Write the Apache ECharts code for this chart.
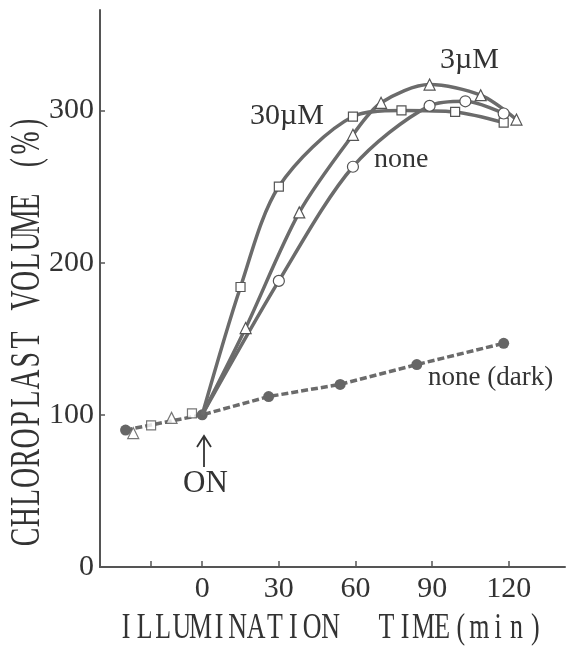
<!DOCTYPE html>
<html>
<head>
<meta charset="utf-8">
<script src="https://cdn.jsdelivr.net/npm/echarts@6/dist/echarts.min.js"></script>
<style>
  html, body { margin: 0; padding: 0; background: #fff; }
  #chart { width: 575px; height: 649px; }
</style>
</head>
<body>
<div id="chart"></div>
<script>
// tick positions / labels
const xTicks = [-20, 0, 30, 60, 90, 120];
const xLabels = [0, 30, 60, 90, 120];
const yLabels = [0, 100, 200, 300];

// [time (min), volume (%)]
const darkNone = [[-30, 90], [0, 100], [26, 112], [54, 120], [84, 133], [118, 147]];
const pre30 = [[-20, 93], [-4, 101]];
const light30 = [[0, 100], [15, 184], [30, 250], [59, 296], [78, 300], [99, 299], [118, 292]];
const pre3 = [[-27, 88], [-12, 98]];
const light3 = [[0, 100], [17, 157], [38, 233], [59, 284], [70, 305], [89, 317], [109, 310], [123, 294]];
const lightNone = [[0, 100], [30, 188], [59, 263], [89, 303], [103, 306], [118, 298]];

const xTitle = 'ILLUMINATION  TIME(min)';
const yTitle = 'CHLOROPLAST VOLUME (%)';

const ink = '#555';
const textInk = '#333';
const lineGray = '#6b6b6b';
const serif = 'Liberation Serif';

// hide marker on the shared start point (drawn by the dark series)
const noStart = arr => arr.map((p, i) => i === 0 ? { value: p, symbol: 'none' } : p);

const openMarker = { color: '#fff', borderColor: ink, borderWidth: 1.2 };

// typewriter-like title: one narrow glyph per fixed step
function spaced(str, step, size, squeeze) {
  return str.split('').map((ch, i) => ({
    type: 'text', x: i * step, y: 0, scaleX: squeeze,
    style: { text: ch, font: size + 'px "Liberation Serif"', fill: textInk, align: 'center', verticalAlign: 'middle' }
  }));
}

const chart = echarts.init(document.getElementById('chart'));
chart.setOption({
  animation: false,
  backgroundColor: '#fff',
  grid: { left: 100, right: 10, top: 10, bottom: 82 },
  xAxis: {
    type: 'value',
    min: -40,
    max: 142,
    splitLine: { show: false },
    axisLine: { lineStyle: { color: ink, width: 2 } },
    axisTick: { inside: true, length: 6, customValues: xTicks, lineStyle: { color: ink, width: 1.5 } },
    axisLabel: { customValues: xLabels, color: textInk, fontFamily: serif, fontSize: 30, margin: 7 }
  },
  yAxis: {
    type: 'value',
    min: 0,
    max: 366,
    splitLine: { show: false },
    axisLine: { show: true, onZero: false, lineStyle: { color: ink, width: 2 } },
    axisTick: { show: true, inside: true, length: 5, customValues: yLabels, lineStyle: { color: ink, width: 1.5 } },
    axisLabel: { customValues: yLabels, color: textInk, fontFamily: serif, fontSize: 30, margin: 6 }
  },
  series: [
    {
      name: '30µM', type: 'line', data: noStart(light30), smooth: 0.3,
      symbol: 'rect', symbolSize: 9,
      lineStyle: { color: lineGray, width: 3.5 }, itemStyle: openMarker, z: 3
    },
    {
      name: '3µM', type: 'line', data: noStart(light3), smooth: 0.3,
      symbol: 'triangle', symbolSize: 11,
      lineStyle: { color: lineGray, width: 3.5 }, itemStyle: openMarker, z: 3
    },
    {
      name: 'none', type: 'line', data: noStart(lightNone), smooth: 0.3,
      symbol: 'circle', symbolSize: 11,
      lineStyle: { color: lineGray, width: 3.5 }, itemStyle: openMarker, z: 3
    },
    {
      name: 'none (dark)', type: 'line', data: darkNone,
      symbol: 'circle', symbolSize: 11,
      lineStyle: { color: lineGray, width: 3.5, type: [7, 3] },
      itemStyle: { color: '#666' }, z: 2
    },
    {
      name: '30µM pre', type: 'scatter', data: pre30,
      symbol: 'rect', symbolSize: 9, itemStyle: openMarker, z: 4
    },
    {
      name: '3µM pre', type: 'scatter', data: pre3,
      symbol: 'triangle', symbolSize: 11, itemStyle: openMarker, z: 4
    }
  ],
  graphic: [
    { type: 'text', left: 250, top: 101, style: { text: '30µM', font: '30px "Liberation Serif"', fill: textInk } },
    { type: 'text', left: 440, top: 45, style: { text: '3µM', font: '30px "Liberation Serif"', fill: textInk } },
    { type: 'text', left: 374, top: 146, style: { text: 'none', font: '28px "Liberation Serif"', fill: textInk } },
    { type: 'text', left: 428, top: 364, style: { text: 'none (dark)', font: '27px "Liberation Serif"', fill: textInk } },
    { type: 'text', left: 183, top: 468, style: { text: 'ON', font: '31px "Liberation Serif"', fill: textInk } },
    { type: 'line', shape: { x1: 204, y1: 437, x2: 204, y2: 467 }, style: { stroke: textInk, lineWidth: 1.8 } },
    { type: 'polyline', shape: { points: [[197, 447], [204, 436], [211, 447]] }, style: { stroke: textInk, lineWidth: 1.8, fill: null } },
    { type: 'group', x: 126, y: 629, children: spaced(xTitle, 18.6, 36, 0.72) },
    { type: 'group', x: 28, y: 537, rotation: Math.PI / 2, children: spaced(yTitle, 19.7, 42, 0.66) }
  ]
});
</script>
</body>
</html>
